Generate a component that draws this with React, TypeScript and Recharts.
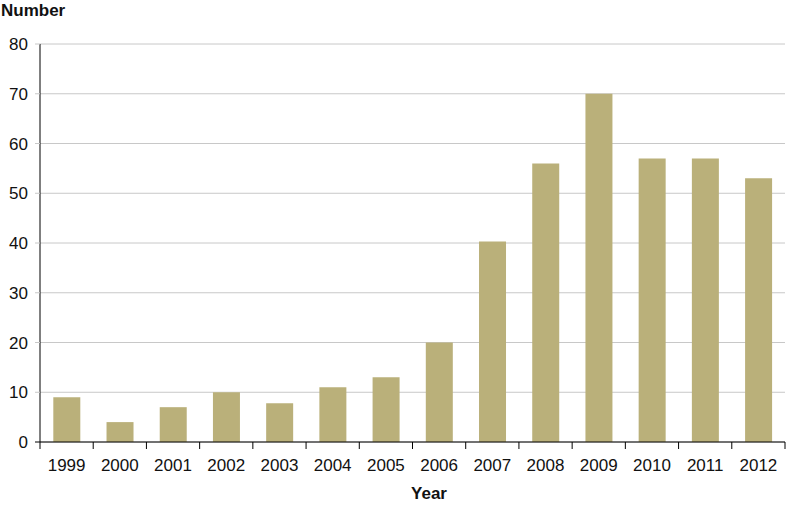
import React from 'react';
import { BarChart, Bar, XAxis, YAxis, CartesianGrid } from 'recharts';

const years = ['1999', '2000', '2001', '2002', '2003', '2004', '2005', '2006', '2007', '2008', '2009', '2010', '2011', '2012'];
const counts = [9, 4, 7, 10, 7.8, 11, 13, 20, 40.3, 56, 70, 57, 57, 53];
const yTicks = [0, 10, 20, 30, 40, 50, 60, 70, 80];

const data = years.map((y, i) => ({ year: y, value: counts[i] }));

const W = 790;
const H = 505;
const M = { top: 44, right: 5, bottom: 0, left: 0 };
const Y_W = 40;
const X_H = 63;
const FONT = '"Liberation Sans", Arial, sans-serif';
const BAND = (W - M.left - M.right - Y_W) / years.length;

const XTick = (props: any) => {
  const { x, y, payload, index } = props;
  const left = x - BAND / 2;
  const right = x + BAND / 2;
  return (
    <g>
      <line x1={left} x2={left} y1={y} y2={y + 7} stroke="#000" strokeWidth={1} />
      {index === years.length - 1 && (
        <line x1={right} x2={right} y1={y} y2={y + 7} stroke="#000" strokeWidth={1} />
      )}
      <text x={x} y={y + 29} textAnchor="middle" fontFamily={FONT} fontSize={17} fill="#111">
        {payload.value}
      </text>
    </g>
  );
};

const YTick = (props: any) => {
  const { x, y, payload } = props;
  return (
    <g>
      <line x1={x - 5} x2={x} y1={y} y2={y} stroke={payload.value === 0 ? '#000' : '#c8c8c8'} strokeWidth={1} />
      <text x={x - 12} y={y + 6} textAnchor="end" fontFamily={FONT} fontSize={17} fill="#111">
        {payload.value}
      </text>
    </g>
  );
};

export default function App() {
  return (
    <div style={{ position: 'absolute', left: 0, top: 0, width: W, height: H, background: '#fff' }}>
      <BarChart width={W} height={H} data={data} margin={M} barCategoryGap="25%">
        <CartesianGrid horizontal vertical={false} stroke="#c8c8c8" strokeWidth={1} />
        <XAxis
          dataKey="year"
          height={X_H}
          tick={<XTick />}
          tickLine={false}
          tickSize={0}
          tickMargin={0}
          axisLine={{ stroke: '#000', strokeWidth: 1 }}
          interval={0}
        />
        <YAxis
          width={Y_W}
          domain={[0, 80]}
          ticks={yTicks}
          tick={<YTick />}
          tickLine={false}
          tickSize={0}
          tickMargin={0}
          axisLine={{ stroke: '#000', strokeWidth: 1 }}
          interval={0}
        />
        <Bar dataKey="value" fill="#BAB07A" isAnimationActive={false} />
      </BarChart>
      <div style={{ position: 'absolute', left: 1, top: 1, fontFamily: FONT, fontWeight: 'bold', fontSize: 17, color: '#111', lineHeight: '20px' }}>
        Number
      </div>
      <div style={{ position: 'absolute', left: 429, top: 484, transform: 'translateX(-50%)', fontFamily: FONT, fontWeight: 'bold', fontSize: 17, color: '#111', lineHeight: '20px' }}>
        Year
      </div>
    </div>
  );
}
